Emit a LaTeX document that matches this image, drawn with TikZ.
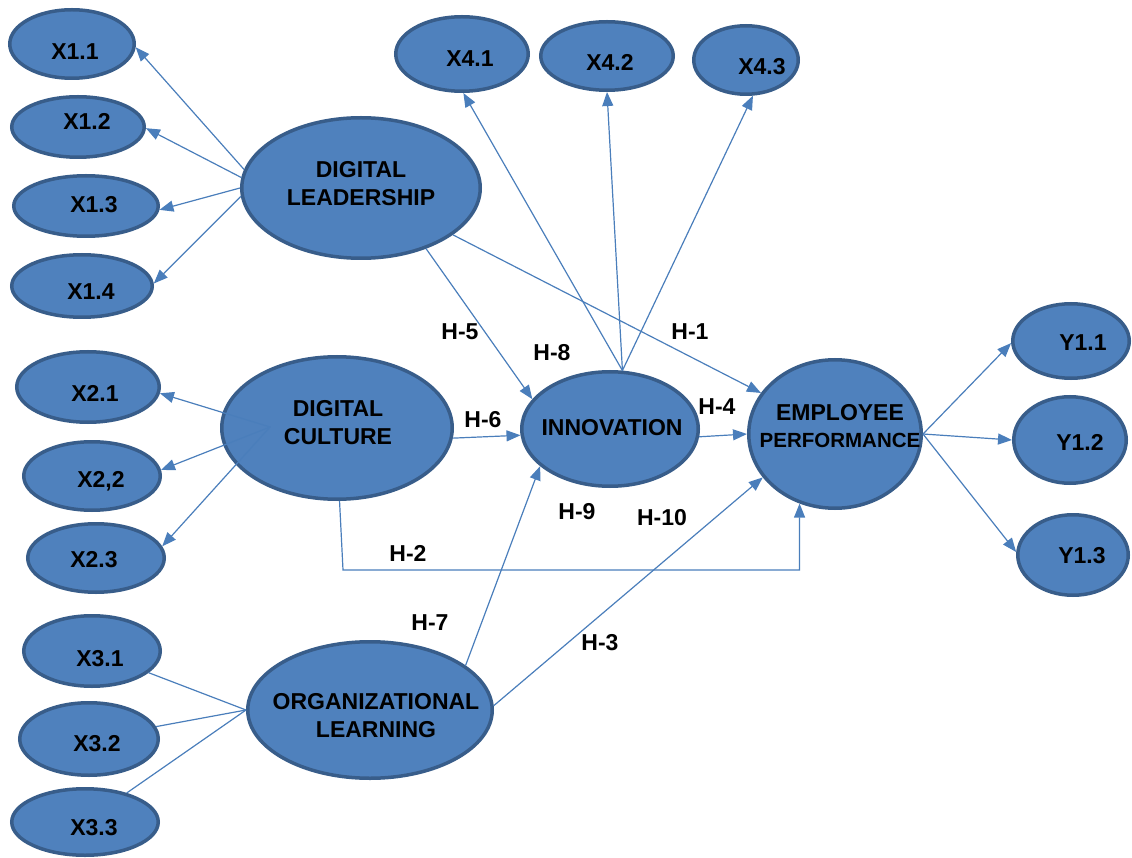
\documentclass[tikz,border=0pt]{standalone}
\usepackage{fontspec}
\setmainfont{Liberation Sans}
\usetikzlibrary{arrows.meta,shapes.geometric}
\definecolor{efill}{HTML}{4F81BD}
\definecolor{edraw}{HTML}{385D8A}
\definecolor{conncol}{HTML}{4A7EBB}
\tikzset{
  lat/.style={ellipse, draw=edraw, fill=efill, line width=3.5pt, inner sep=0pt},
  lbl/.style={font=\fontsize{23}{28}\selectfont\bfseries, text=black, inner sep=0pt, align=center},
  line/.style={draw=conncol, line width=1.2pt},
  arr/.style={line, -{Triangle[length=14pt,width=11pt]}},
}
\begin{document}
\begin{tikzpicture}[x=1pt,y=-1pt]
\useasboundingbox (0,0) rectangle (1132,858);
% latent / indicator ellipses
\node[lat, minimum width=124.5pt, minimum height=68.5pt] (x11) at (72,44) {};
\node[lat, minimum width=132.5pt, minimum height=60.5pt] (x12) at (78,127) {};
\node[lat, minimum width=144.5pt, minimum height=60.5pt] (x13) at (86,206) {};
\node[lat, minimum width=140.5pt, minimum height=62.5pt] (x14) at (82,286) {};
\node[lat, minimum width=238.5pt, minimum height=140.5pt] (dl) at (361,188) {};
\node[lat, minimum width=132.5pt, minimum height=74.5pt] (x41) at (462,54) {};
\node[lat, minimum width=132.5pt, minimum height=68.5pt] (x42) at (607,56) {};
\node[lat, minimum width=104.5pt, minimum height=68.5pt] (x43) at (746,60) {};
\node[lat, minimum width=176.5pt, minimum height=114.5pt] (inn) at (610,429) {};
\node[lat, minimum width=172.5pt, minimum height=148.5pt] (emp) at (835,434) {};
\node[lat, minimum width=116.5pt, minimum height=74.5pt] (y11) at (1071,341) {};
\node[lat, minimum width=112.5pt, minimum height=86.5pt] (y12) at (1070,440) {};
\node[lat, minimum width=110.5pt, minimum height=80.5pt] (y13) at (1073,555) {};
\node[lat, minimum width=230.5pt, minimum height=142.5pt] (dc) at (337,428) {};
\node[lat, minimum width=142.5pt, minimum height=70.5pt] (x21) at (88,387) {};
\node[lat, minimum width=136.5pt, minimum height=68.5pt] (x22) at (92,476) {};
\node[lat, minimum width=136.5pt, minimum height=68.5pt] (x23) at (96,558) {};
\node[lat, minimum width=244.5pt, minimum height=136.5pt] (ol) at (370,710) {};
\node[lat, minimum width=136.5pt, minimum height=70.5pt] (x31) at (92,651) {};
\node[lat, minimum width=138.5pt, minimum height=72.5pt] (x32) at (89,739) {};
\node[lat, minimum width=146.5pt, minimum height=66.5pt] (x33) at (85,822) {};
% hub coordinates
\coordinate (dchub) at (270,427);
\coordinate (h2a) at (343,570);
% connectors
\draw[arr] (dl.171) -- (x11.-3);
\draw[arr] (dl.175) -- (x12.-1);
\draw[arr] (dl.180) -- (x13.-3);
\draw[arr] (dl.184) -- (x14.2);
\draw[arr] (inn.78) -- (x41.-88);
\draw[arr] (inn.78) -- (x42.-90);
\draw[arr] (inn.78) -- (x43.-79);
\draw[arr] (dl.-43) -- (inn.159);
\draw[arr] (dl.-27) -- (emp.151);
\draw[arr] (dc.-5) -- (inn.-176);
\draw[arr] (inn.-5) -- (emp.180);
\draw[arr] (dc.-88) -- (h2a) -| (emp.-117);
\draw[arr] (ol.25) -- (inn.-152);
\draw[arr] (ol.2) -- (emp.-149.5);
\draw[arr] (emp.0) -- (y11.-178);
\draw[arr] (emp.0) -- (y12.180);
\draw[arr] (emp.0) -- (y13.177);
\draw[arr] (dchub) -- (x21.-5);
\draw[arr] (dchub) -- (x22.5);
\draw[arr] (dchub) -- (x23.10);
\draw[line] (ol.180) -- (x31);
\draw[line] (ol.180) -- (x32);
\draw[line] (ol.180) -- (x33);
% texts
\node[lbl] (t11) at (75,52) {X1.1};
\node[lbl] (t12) at (87,121) {X1.2};
\node[lbl] (t13) at (94,205) {X1.3};
\node[lbl] (t14) at (91,292) {X1.4};
\node[lbl] (tdl) at (361,184) {DIGITAL\\LEADERSHIP};
\node[lbl] (t41) at (470,59) {X4.1};
\node[lbl] (t42) at (610,62) {X4.2};
\node[lbl] (t43) at (762,67) {X4.3};
\node[lbl] (tinn) at (612,428) {INNOVATION};
\node[lbl, font=\fontsize{23}{27}\selectfont\bfseries] (temp) at (840,426) {EMPLOYEE\\{\fontsize{20.5}{27}\selectfont PERFORMANCE}};
\node[lbl] (ty11) at (1083,343) {Y1.1};
\node[lbl] (ty12) at (1080,442) {Y1.2};
\node[lbl] (ty13) at (1082,556) {Y1.3};
\node[lbl] (tdc) at (338,423) {DIGITAL\\CULTURE};
\node[lbl] (t21) at (95,393) {X2.1};
\node[lbl] (t22) at (101,481) {X2,2};
\node[lbl] (t23) at (94,560) {X2.3};
\node[lbl] (tol) at (376,716) {ORGANIZATIONAL\\LEARNING};
\node[lbl] (t31) at (100,659) {X3.1};
\node[lbl] (t32) at (97,744) {X3.2};
\node[lbl] (t33) at (94,828) {X3.3};
% hypothesis labels
\node[lbl] (h5) at (460,332) {H-5};
\node[lbl] (h8) at (552,353) {H-8};
\node[lbl] (h1) at (690,332) {H-1};
\node[lbl] (h4) at (717,407) {H-4};
\node[lbl] (h6) at (483,420) {H-6};
\node[lbl] (h9) at (577,512) {H-9};
\node[lbl] (h10) at (662,518) {H-10};
\node[lbl] (h2) at (408,553) {H-2};
\node[lbl] (h7) at (430,623) {H-7};
\node[lbl] (h3) at (600,643) {H-3};
\end{tikzpicture}
\end{document}
